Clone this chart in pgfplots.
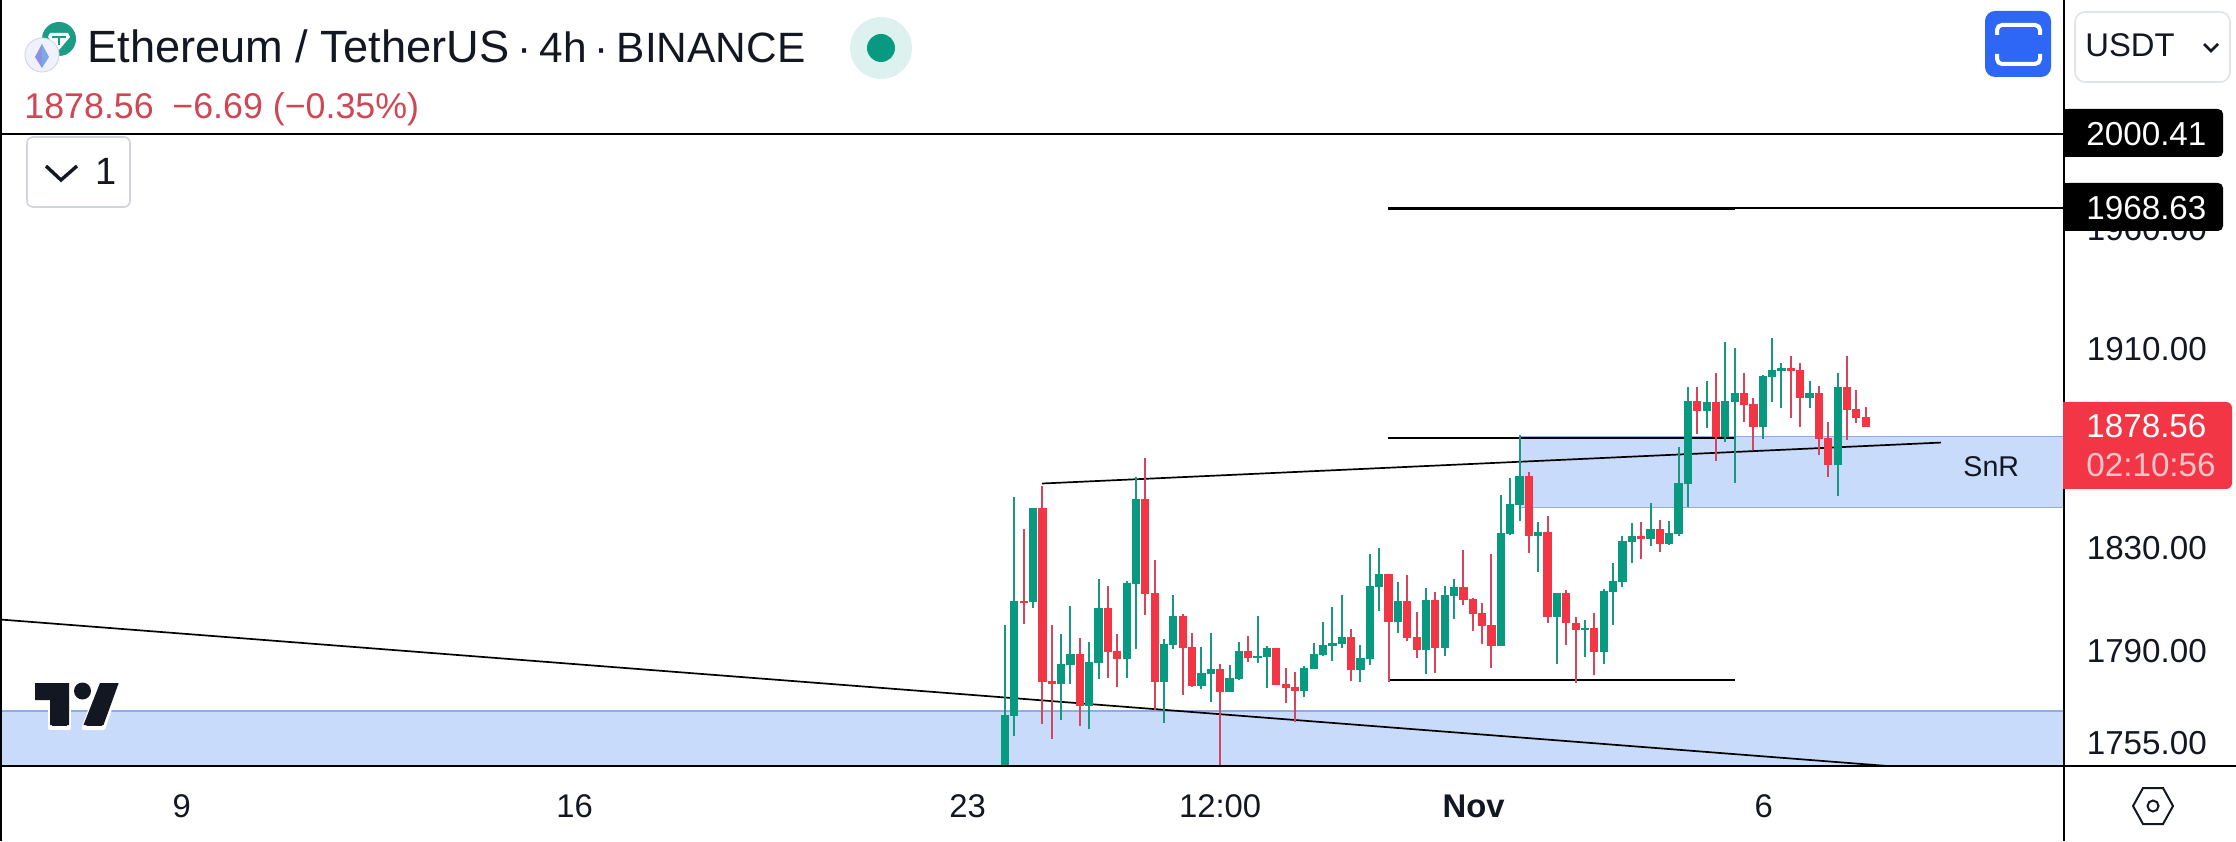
\documentclass[border=0pt]{standalone}
\usepackage{pgfplots}
\pgfplotsset{compat=1.18}
\usepackage{pgfplotstable}
\usepackage{fontspec}
\setmainfont{Liberation Sans}
\definecolor{upc}{HTML}{089981}
\definecolor{dnc}{HTML}{F23645}
\definecolor{upw}{HTML}{16997F}
\definecolor{dnw}{HTML}{D2475C}
\definecolor{zonef}{HTML}{C8DBFA}
\definecolor{zonel}{HTML}{8FADDF}
\definecolor{ink}{HTML}{131722}
\definecolor{redtxt}{RGB}{207,70,84}
\definecolor{tether}{RGB}{27,156,133}
\definecolor{ethbg}{RGB}{240,241,250}
\definecolor{ethbd}{RGB}{212,216,232}
\definecolor{ethl}{RGB}{140,143,232}
\definecolor{ethr}{RGB}{124,167,232}
\definecolor{halo}{RGB}{221,241,238}
\definecolor{btn}{RGB}{46,102,246}
\definecolor{boxa}{RGB}{224,227,235}
\definecolor{boxb}{RGB}{209,212,220}
\definecolor{pink}{RGB}{251,197,202}
\pgfplotstableread{
i h t b l
0 1799.9 1765.4 1740.0 1735.0
1 1850.3 1809.2 1765.0 1757.4
3 1845.8 1845.8 1808.8 1806.6
6 1796.4 1784.9 1777.2 1763.5
7 1807.3 1788.8 1784.5 1777.2
9 1793.4 1785.7 1768.8 1760.1
10 1817.8 1806.5 1785.3 1779.2
13 1817.1 1816.3 1786.8 1779.6
14 1858.2 1849.4 1815.9 1790.7
17 1794.5 1792.6 1778.0 1762.4
18 1811.6 1803.4 1792.2 1790.7
21 1791.5 1781.5 1776.5 1775.3
22 1796.9 1783.0 1781.1 1770.3
24 1784.5 1779.6 1774.2 1774.2
25 1793.4 1789.9 1779.2 1778.8
27 1803.4 1788.0 1787.2 1785.3
28 1791.9 1791.1 1787.6 1775.7
32 1784.1 1783.4 1774.6 1772.3
33 1793.0 1788.8 1783.0 1783.0
34 1801.1 1792.2 1788.4 1788.0
35 1806.9 1793.0 1791.9 1786.1
36 1811.6 1795.3 1792.6 1791.1
38 1792.2 1787.2 1782.6 1778.0
39 1827.6 1815.1 1786.8 1784.5
40 1830.0 1819.8 1814.7 1805.4
42 1816.7 1809.2 1801.1 1796.9
45 1814.3 1809.6 1790.3 1781.1
47 1815.1 1811.6 1791.1 1788.0
48 1817.8 1814.7 1811.2 1802.3
53 1851.0 1836.0 1791.9 1791.9
54 1857.8 1847.4 1835.5 1835.2
55 1875.4 1858.6 1847.0 1841.0
57 1840.3 1836.4 1834.7 1820.6
59 1812.4 1812.4 1803.0 1784.9
62 1801.9 1798.8 1798.0 1787.6
64 1813.9 1813.1 1789.5 1784.9
65 1824.1 1817.1 1812.8 1800.0
66 1834.7 1832.8 1816.7 1814.7
67 1839.9 1834.7 1832.4 1824.1
69 1847.8 1837.5 1833.6 1830.8
71 1840.7 1835.9 1831.6 1831.2
72 1870.2 1855.8 1835.5 1834.7
73 1894.5 1888.8 1855.4 1846.2
75 1897.0 1888.4 1884.8 1877.9
77 1912.9 1888.8 1874.3 1872.2
78 1910.8 1892.0 1888.4 1855.8
81 1899.4 1899.0 1878.3 1873.5
82 1914.5 1901.4 1898.6 1888.4
83 1904.3 1902.2 1901.0 1885.9
86 1897.0 1892.0 1890.0 1885.9
89 1900.2 1894.5 1863.0 1850.6
}\upt
\pgfplotstableread{
i h t b l
2 1837.6 1809.5 1808.6 1800.3
4 1854.6 1845.8 1778.1 1762.0
5 1799.9 1778.4 1777.2 1756.4
8 1794.9 1788.8 1768.8 1761.2
11 1815.1 1806.5 1789.5 1779.6
12 1796.5 1789.9 1786.8 1776.1
15 1865.8 1849.4 1812.0 1803.8
16 1825.3 1812.3 1778.0 1767.3
19 1804.2 1803.4 1791.1 1773.0
20 1796.9 1791.5 1776.5 1776.1
23 1784.9 1783.0 1774.2 1744.0
26 1795.7 1789.9 1787.2 1785.7
29 1791.1 1791.1 1776.9 1776.9
30 1783.4 1777.2 1775.7 1769.9
31 1781.9 1776.1 1774.6 1762.8
37 1798.4 1795.3 1782.6 1778.4
41 1819.8 1819.8 1801.1 1778.0
43 1819.4 1809.2 1794.9 1793.7
44 1805.0 1795.3 1790.3 1787.2
46 1812.7 1809.6 1791.1 1781.5
49 1829.2 1814.7 1809.6 1807.7
50 1810.4 1810.0 1804.2 1797.6
51 1808.4 1804.6 1799.6 1792.6
52 1827.6 1800.0 1791.9 1783.4
56 1860.2 1858.6 1834.7 1828.0
58 1842.7 1836.4 1803.0 1800.7
60 1813.5 1812.4 1800.7 1792.2
61 1803.0 1800.7 1798.0 1777.5
63 1804.6 1798.8 1789.5 1780.6
68 1840.3 1834.7 1833.6 1825.6
70 1841.1 1837.5 1831.6 1828.4
74 1894.5 1888.8 1884.8 1875.5
76 1900.2 1888.4 1874.3 1864.6
79 1900.2 1892.0 1887.2 1880.7
80 1890.0 1887.6 1878.3 1869.0
84 1907.6 1902.2 1901.0 1881.9
85 1904.3 1901.4 1890.0 1878.3
87 1895.3 1892.0 1873.5 1867.0
88 1880.3 1873.9 1863.0 1858.2
90 1907.1 1894.5 1885.2 1873.1
91 1893.2 1885.6 1881.9 1879.9
92 1886.6 1882.2 1878.56 1878.56
}\dnt
% one wick and one body per table row, read from the table through \addplot
\newcommand\candles[4]{% table, number of rows - 1, wick colour, body colour
  \pgfplotsforeachungrouped \r in {0,...,#2}{%
    \pgfplotstablegetelem{\r}{i}\of{#1}\let\cx\pgfplotsretval
    \pgfplotstablegetelem{\r}{h}\of{#1}\let\ch\pgfplotsretval
    \pgfplotstablegetelem{\r}{t}\of{#1}\let\ct\pgfplotsretval
    \pgfplotstablegetelem{\r}{b}\of{#1}\let\cb\pgfplotsretval
    \pgfplotstablegetelem{\r}{l}\of{#1}\let\cl\pgfplotsretval
    \edef\tmp{\noexpand\addplot[draw=#3,line width=1pt,forget plot] coordinates {(\cx,\cl)(\cx,\ch)};
      \noexpand\addplot[draw=#4,line width=4.1pt,forget plot] coordinates {(\cx,\cb)(\cx,\ct)};}%
    \tmp
  }%
}
\begin{document}
\begin{tikzpicture}
\path[use as bounding box] (0,0) rectangle (1118pt,420.5pt);
\begin{axis}[
  at={(0,37.5pt)},anchor=south west,scale only axis,
  width=1032pt,height=383pt,
  xmin=-107.43,xmax=113.2,
  % the chart's price scale is logarithmic; a log axis over so narrow a range overflows TeX
  y coord trafo/.code={\pgfmathparse{ln(#1)}},
  ymin=1746.2,ymax=2058.9,
  axis line style={draw=none},
  major tick length=0pt,
  yminorticks=false,
  ytick={1755,1790,1830,1910,1960},
  yticklabels={1755.00,1790.00,1830.00,1910.00,1960.00},
  yticklabel pos=right,
  yticklabel style={anchor=west,inner sep=0pt,xshift=11.2pt,font=\fontsize{16.6}{18}\selectfont,text=ink},
  xtick={-88,-46,-4,23,50.1,81.1},
  xticklabels={9,16,23,12:00,\textbf{Nov},6},
  xticklabel style={anchor=base,inner sep=0pt,yshift=-25.5pt,font=\fontsize{16.4}{18}\selectfont,text=ink},
]
% zones
\addplot[fill=zonef,draw=none,forget plot] coordinates {(-107.43,1746.2)(113.2,1746.2)(113.2,1766.9)(-107.43,1766.9)} --cycle;
\addplot[draw=zonel,line width=0.8pt,forget plot] coordinates {(-107.43,1766.9)(113.2,1766.9)};
\addplot[fill=zonef,draw=none,forget plot] coordinates {(55,1846.2)(113.2,1846.2)(113.2,1874.6)(55,1874.6)} --cycle;
\addplot[draw=zonel,line width=0.8pt,forget plot] coordinates {(55,1874.6)(113.2,1874.6)};
\addplot[draw=zonel,line width=0.8pt,forget plot] coordinates {(55,1846.2)(113.2,1846.2)};
% drawings
\addplot[draw=black,line width=1pt,forget plot] coordinates {(-107.43,2000.41)(113.2,2000.41)};
\addplot[draw=black,line width=0.8pt,forget plot] coordinates {(78.03,1968.9)(113.2,1968.9)};
\addplot[draw=black,line width=1.3pt,forget plot] coordinates {(40.94,1968.9)(78.03,1968.9)};
\addplot[draw=black,line width=1.3pt,forget plot] coordinates {(40.94,1874.0)(78.03,1874.0)};
\addplot[draw=black,line width=1.3pt,forget plot] coordinates {(40.94,1778.8)(78.03,1778.8)};
\addplot[draw=black,line width=0.85pt,forget plot] coordinates {(3.96,1855.7)(100.05,1872.0)};
\addplot[draw=black,line width=0.85pt,forget plot] coordinates {(-107.43,1802.1)(94.28,1746.2)};
% candles
\candles{\upt}{50}{upw}{upc}
\candles{\dnt}{41}{dnw}{dnc}
\end{axis}
\begin{scope}[shift={(0,420.5pt)},x=0.5pt,y=-0.5pt]
% frame lines
\draw[black,line width=1pt] (1,0)--(1,841);
\draw[black,line width=1pt] (2064,0)--(2064,841);
\draw[black,line width=1pt] (0,766)--(2236,766);
% title
\node[anchor=base west,inner sep=0pt,text=ink,font=\fontsize{21.2}{24}\selectfont] at (87,63) {{\fontsize{22.6}{24}\selectfont Ethereum / TetherUS}\hspace{4pt}·\hspace{4pt}4h\hspace{4pt}·\hspace{4pt}BINANCE};
\node[anchor=base west,inner sep=0pt,text=redtxt,font=\fontsize{17.9}{20}\selectfont] at (24,119) {1878.56\hspace{9.3pt}−6.69 (−0.35\%)};
% coin icons
\fill[tether] (59,39) circle (8.5pt);
\fill[white] (50,33)--(68,33)--(70,37)--(59,50)--(48,37)--cycle;
\fill[tether] (52,36) rectangle (66,38);
\fill[tether] (58,36) rectangle (60,45);
\filldraw[fill=ethbg,draw=ethbd,line width=0.5pt] (42,55) circle (8.5pt);
\fill[ethl] (42,44)--(35,57)--(42,68)--cycle;
\fill[ethr] (42,44)--(49,57)--(42,68)--cycle;
% status dot
\fill[halo] (881,48) circle (15.5pt);
\fill[upc] (881,48) circle (7pt);
% blue button
\fill[btn,rounded corners=5pt] (1985,11) rectangle (2051,77);
\draw[white,line width=2pt,rounded corners=2.5pt] (1997,35)--(1997,25)--(2040,25)--(2040,35);
\draw[white,line width=2pt,rounded corners=2.5pt] (1997,54)--(1997,64)--(2040,64)--(2040,54);
% USDT
\draw[boxa,line width=0.8pt,rounded corners=5pt] (2075,12) rectangle (2230,82);
\node[anchor=base west,inner sep=0pt,text=ink,font=\fontsize{16.4}{18}\selectfont] at (2085,57) {USDT};
\draw[ink,line width=1.3pt] (2204,44)--(2211,51)--(2218,44);
% legend toggle
\draw[boxb,line width=0.8pt,rounded corners=3pt] (27,137) rectangle (130,207);
\draw[ink,line width=1.7pt] (46,166)--(61,180)--(77,166);
\node[anchor=base west,inner sep=0pt,text=ink,font=\fontsize{19}{20}\selectfont] at (95,185) {1};
% price tags
\fill[black,rounded corners=2.5pt] (2064,109) rectangle (2223,157);
\fill[black] (2064,109) rectangle (2080,157);
\node[anchor=base west,inner sep=0pt,text=white,font=\fontsize{16.6}{18}\selectfont] at (2086,146) {2000.41};
\fill[black,rounded corners=2.5pt] (2064,183) rectangle (2223,231);
\fill[black] (2064,183) rectangle (2080,231);
\node[anchor=base west,inner sep=0pt,text=white,font=\fontsize{16.6}{18}\selectfont] at (2086,220) {1968.63};
\fill[dnc,rounded corners=3pt] (2063,402) rectangle (2232,489);
\fill[dnc] (2063,402) rectangle (2080,489);
\node[anchor=base west,inner sep=0pt,text=white,font=\fontsize{16.6}{18}\selectfont] at (2086,438) {1878.56};
\node[anchor=base west,inner sep=0pt,text=pink,font=\fontsize{16.6}{18}\selectfont] at (2086,477) {02:10:56};
% SnR
\node[anchor=base west,inner sep=0pt,text=ink,font=\fontsize{14.3}{16}\selectfont] at (1963,477) {SnR};
% settings
\draw[ink,line width=1pt] (2133,806)--(2143,788)--(2163,788)--(2173,806)--(2163,824)--(2143,824)--cycle;
\draw[ink,line width=1pt] (2153,806) circle (2.75pt);
% tradingview logo
\filldraw[fill=ink,draw=white,line width=2pt,line join=round] (35,683)--(69,683)--(69,728)--(50,728)--(50,700)--(35,700)--cycle;
\filldraw[fill=ink,draw=white,line width=2pt,line join=round] (100,683)--(118.7,683)--(103.5,728)--(83.5,728)--cycle;
\fill[ink] (35,683)--(69,683)--(69,725)--(50,725)--(50,700)--(35,700)--cycle;
\fill[ink] (100,683)--(118.7,683)--(103.5,725)--(83.5,725)--cycle;
\fill[ink] (82.5,691) circle (4.25pt);
\end{scope}
\end{tikzpicture}
\end{document}
